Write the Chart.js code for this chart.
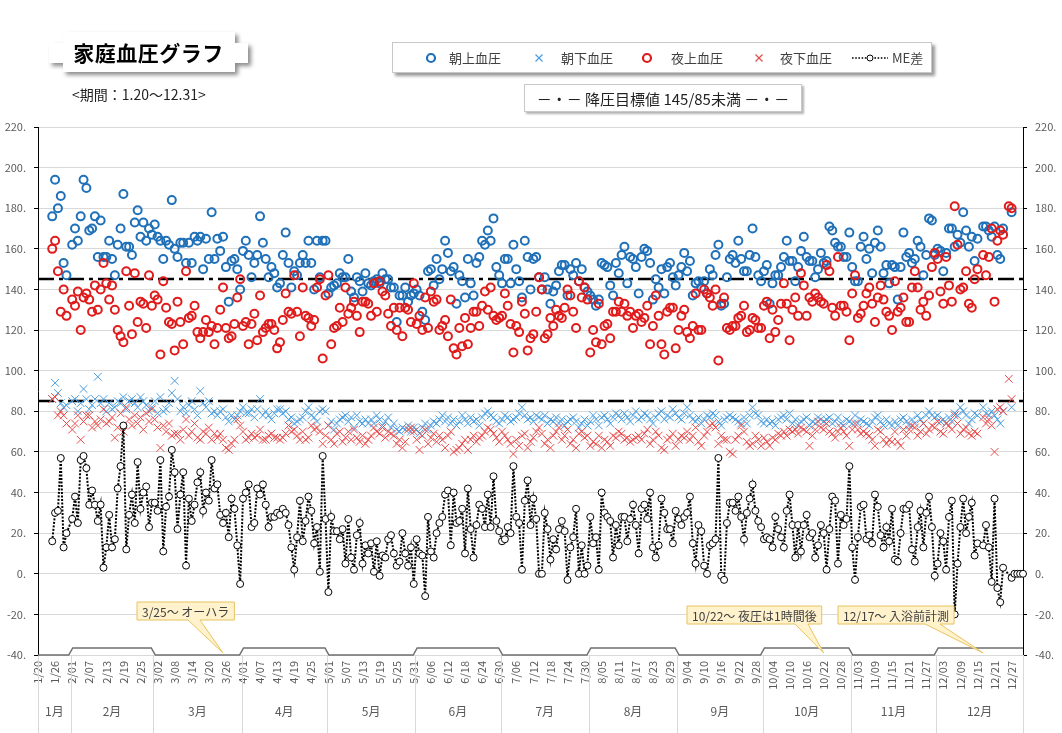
<!DOCTYPE html>
<html lang="ja">
<head>
<meta charset="utf-8">
<title>家庭血圧グラフ</title>
<script src="https://cdn.jsdelivr.net/npm/chart.js@4.4.1/dist/chart.umd.min.js"></script>
<style>
  html, body { margin: 0; padding: 0; background: #fff; }
  body { width: 1062px; height: 733px; position: relative; overflow: hidden; font-family: "Noto Sans CJK JP", "Noto Sans", sans-serif; color: #333; }
  #bpChart { position: absolute; left: 0; top: 0; }
  .title-wrap { position: absolute; left: 49px; top: 32px; width: 199px; height: 40px; filter: drop-shadow(3px 3px 2px rgba(0,0,0,0.45)); z-index: 2; }
  .title-plate { width: 100%; height: 100%; background: #fff; display: flex; align-items: center; justify-content: center;
    clip-path: polygon(14px 0, 186px 0, 186px 11px, 199px 11px, 199px 31px, 186px 31px, 186px 40px, 14px 40px, 14px 31px, 0 31px, 0 11px, 14px 11px);
    font-size: 21px; font-weight: bold; color: #000; letter-spacing: 0.5px; }
  .period { position: absolute; left: 72px; top: 84px; font-size: 14px; color: #222; z-index: 2; }
  .box { position: absolute; background: #fff; border: 1px solid #c8c8c8; box-shadow: 3px 3px 3px rgba(0,0,0,0.4); z-index: 2; }
  .legend-item { position: absolute; top: 0; height: 29px; display: flex; align-items: center; font-size: 13px; color: #404040; }
  .legend-item svg { display: block; }
  .target { font-size: 15px; color: #222; display: flex; align-items: center; justify-content: center; box-shadow: 2px 2px 2px rgba(0,0,0,0.3); }
</style>
</head>
<body>
<canvas id="bpChart" width="1062" height="733"></canvas>

<div class="title-wrap"><div class="title-plate">家庭血圧グラフ</div></div>
<div class="period">&lt;期間：1.20～12.31&gt;</div>

<div class="box" style="left:392px; top:42px; width:538px; height:29px;">
  <div class="legend-item" style="left:32px"><svg width="12" height="12"><circle cx="6" cy="6" r="4" fill="none" stroke="#1f70b8" stroke-width="2.2"/></svg></div>
  <div class="legend-item" style="left:56px">朝上血圧</div>
  <div class="legend-item" style="left:140px"><svg width="12" height="12"><path d="M2.5 2.5L9.5 9.5M9.5 2.5L2.5 9.5" stroke="#4a9ee0" stroke-width="1.2"/></svg></div>
  <div class="legend-item" style="left:168px">朝下血圧</div>
  <div class="legend-item" style="left:248px"><svg width="12" height="12"><circle cx="6" cy="6" r="4" fill="none" stroke="#e01b1b" stroke-width="2.2"/></svg></div>
  <div class="legend-item" style="left:278px">夜上血圧</div>
  <div class="legend-item" style="left:360px"><svg width="12" height="12"><path d="M2.5 2.5L9.5 9.5M9.5 2.5L2.5 9.5" stroke="#e84a4a" stroke-width="1.2"/></svg></div>
  <div class="legend-item" style="left:387px">夜下血圧</div>
  <div class="legend-item" style="left:459px"><svg width="36" height="12"><line x1="0" y1="6" x2="36" y2="6" stroke="#000" stroke-width="1.6" stroke-dasharray="1.6 1.6"/><circle cx="18" cy="6" r="3" fill="#fff" stroke="#000" stroke-width="1"/></svg></div>
  <div class="legend-item" style="left:499px">ME差</div>
</div>

<div class="box target" style="left:524px; top:84px; width:276px; height:26px;">－・－ 降圧目標値 145/85未満 －・－</div>

<script>
const FONT = '"Noto Sans CJK JP", "Noto Sans", sans-serif';

// 日付ラベル (2020年 1/20～12/31)
const monthNames = ['1月', '2月', '3月', '4月', '5月', '6月', '7月', '8月', '9月', '10月', '11月', '12月'];
const monthDays = [31, 29, 31, 30, 31, 30, 31, 31, 30, 31, 30, 31];
const startDay = 20;
const targetLines = [145, 85];

const labels = [];
const monthStart = [];
for (let m = 0; m < 12; m++) {
    monthStart.push(labels.length);
    for (let d = (m === 0 ? startDay : 1); d <= monthDays[m]; d++) {
        labels.push(`${m + 1}/${String(d).padStart(2, '0')}`);
    }
}

// 朝上血圧
const morningSys = [
    null,null,null,null,null,176,194,180,186,153,
    147,null,162,170,164,176,194,190,169,170,
    176,156,174,156,156,164,155,147,162,170,
    187,161,161,157,173,179,166,173,164,170,
    167,172,166,164,155,164,162,184,160,156,
    163,163,153,163,153,166,164,166,150,165,
    155,178,155,165,159,166,151,134,154,155,
    150,140,159,164,157,146,153,157,176,163,
    155,146,151,148,141,143,157,168,153,141,
    149,147,153,157,153,164,153,140,164,146,
    164,164,138,141,142,143,148,146,146,155,
    139,136,146,144,139,148,143,142,144,145,
    143,148,145,145,141,141,124,137,137,141,
    134,137,138,140,137,129,125,149,150,142,
    155,145,150,164,158,149,151,133,147,144,
    136,155,143,137,153,156,164,162,169,164,
    175,151,147,143,155,155,143,162,150,144,
    136,164,156,140,155,156,146,140,146,140,
    133,139,142,149,152,152,137,150,147,153,
    144,150,141,139,137,135,132,135,153,152,
    151,142,137,153,148,157,161,143,156,155,
    151,138,156,160,159,153,135,145,141,150,
    138,151,153,146,142,147,151,158,149,154,
    137,143,144,141,144,138,150,147,157,162,
    132,133,146,155,157,153,164,155,149,149,
    157,170,156,147,144,149,152,133,143,147,
    147,151,156,164,154,154,144,151,159,166,
    156,154,154,146,150,158,153,154,171,169,
    163,161,161,156,156,168,151,144,144,161,
    166,155,160,148,163,169,161,148,152,143,
    152,151,135,151,168,156,158,153,155,164,
    161,147,157,175,174,157,160,159,149,158,
    170,170,161,167,163,178,169,161,166,154,
    165,null,171,171,169,166,171,157,155,170,
    null,null,178,null,null,null,null
];

// 朝下血圧
const morningDia = [
    null,null,null,null,null,86,94,89,84,82,
    83,null,85,86,80,84,91,86,81,83,
    86,97,84,86,80,84,81,82,85,84,
    87,81,85,86,84,82,87,85,83,80,
    82,85,79,87,80,81,84,89,95,86,
    80,82,79,83,85,81,78,90,84,82,
    85,79,80,78,80,81,77,75,78,76,
    78,80,82,79,79,81,77,81,86,78,
    80,78,76,79,81,81,79,80,76,77,
    74,75,76,77,80,82,78,77,75,80,
    81,80,73,75,71,74,76,77,78,75,
    77,72,78,75,74,76,74,76,74,78,
    76,73,75,77,72,74,71,70,72,71,
    73,70,72,71,69,72,74,71,73,75,
    74,76,78,75,77,74,76,73,75,78,
    76,74,77,75,76,73,77,79,80,78,
    77,75,74,76,78,77,75,76,77,79,
    82,78,76,77,75,78,77,76,78,74,
    76,75,77,74,76,73,75,76,77,75,
    72,74,76,73,75,78,76,73,77,78,
    76,74,77,79,78,76,79,77,75,78,
    80,76,77,79,78,76,74,77,79,80,
    76,78,77,81,79,77,76,79,82,78,
    76,75,77,74,76,78,77,79,78,75,
    73,76,77,78,77,76,75,74,77,74,
    78,82,79,78,75,74,76,74,75,73,
    76,77,78,76,79,74,76,73,75,76,
    77,73,75,74,77,76,75,76,77,74,
    75,77,74,73,76,75,74,78,74,76,
    75,74,73,75,77,78,75,73,76,74,
    73,75,73,76,77,75,73,76,74,78,
    76,74,78,80,78,77,78,75,76,74,
    77,75,79,78,82,80,78,74,76,79,
    78,null,82,79,78,80,78,76,74,80,
    null,null,82,null,null,null,null
];

// 夜上血圧
const eveningSys = [
    null,null,null,null,null,160,164,149,129,140,
    127,null,135,132,139,120,136,138,135,129,
    142,130,140,153,143,135,142,130,120,117,
    114,149,132,118,148,124,134,133,121,147,
    132,137,135,108,144,131,124,123,110,134,
    124,113,149,126,127,132,119,116,119,125,
    119,122,113,121,130,141,121,116,117,123,
    136,145,122,124,113,123,128,115,137,119,
    121,123,123,120,111,114,125,138,129,128,
    147,129,117,141,127,126,122,125,141,145,
    106,137,147,113,121,122,131,124,141,128,
    131,134,127,119,134,134,133,127,143,129,
    144,139,137,128,122,131,120,131,117,131,
    130,124,143,123,127,120,136,121,139,134,
    135,120,122,125,117,135,111,108,121,112,
    126,113,121,129,129,122,132,139,130,141,
    127,125,126,127,138,132,123,109,122,119,
    134,128,110,116,118,129,146,140,116,118,
    126,122,130,127,126,131,140,137,129,121,
    144,136,141,135,109,120,114,133,113,122,
    123,116,129,129,134,129,133,127,129,121,
    127,128,124,126,132,113,122,137,127,113,
    108,129,131,131,111,120,127,130,119,116,
    122,138,120,120,140,138,136,132,140,105,
    133,136,121,120,122,122,126,127,132,119,
    120,126,125,121,121,132,134,116,130,119,
    125,133,143,133,115,130,136,127,148,142,
    127,136,134,138,136,134,133,152,149,131,
    127,156,132,132,129,115,138,147,126,128,
    132,138,141,133,124,136,142,135,129,127,
    120,144,129,131,136,124,124,141,149,141,
    130,134,127,137,151,158,155,139,133,156,
    142,134,181,162,140,141,149,133,131,145,
    150,null,157,147,156,170,134,164,169,167,
    null,181,180,null,null,null,null
];

// 夜下血圧
const eveningDia = [
    null,null,null,null,null,86,87,78,80,78,
    74,null,71,74,78,66,75,78,78,72,
    75,73,76,81,74,75,77,67,72,79,
    70,82,76,73,78,74,77,71,79,75,
    81,76,72,62,73,70,74,68,69,69,
    66,71,76,68,70,74,67,66,70,69,
    72,66,69,67,69,66,62,61,64,66,
    76,73,70,66,67,69,67,68,71,66,
    66,68,69,67,67,66,67,69,73,70,
    71,68,66,70,66,67,73,71,72,70,
    64,68,73,66,64,69,70,65,67,70,
    66,71,67,65,68,64,66,68,72,70,
    69,72,67,70,69,68,64,66,62,65,
    71,72,70,66,61,68,71,64,67,69,
    65,68,66,62,68,70,60,61,62,64,
    66,61,66,68,65,67,68,70,72,71,
    69,67,65,70,68,66,64,59,66,63,
    68,69,62,65,67,70,72,69,64,66,
    62,68,70,72,66,68,71,64,66,62,
    69,70,67,68,63,65,64,68,62,66,
    65,63,68,67,70,69,66,67,65,66,
    67,68,66,69,71,64,66,70,68,62,
    61,66,67,69,63,66,68,67,70,66,
    68,72,65,63,68,70,73,74,72,64,
    68,66,66,60,59,66,68,73,70,65,
    63,64,68,66,63,67,65,63,67,66,
    69,68,70,68,71,70,71,69,72,71,
    70,63,68,71,75,72,71,74,70,69,
    67,70,72,70,68,63,71,74,71,69,
    70,69,68,66,63,71,70,66,64,66,
    65,70,65,63,71,68,71,73,72,68,
    70,74,69,71,73,72,75,70,69,74,
    73,71,78,74,69,71,72,69,68,70,
    69,null,77,74,76,73,60,81,82,80,
    null,96,86,null,null,null,null
];

// ME差 (朝上 - 夜上)
const meDiff = [
    null,null,null,null,null,16,30,31,57,13,
    20,null,27,38,25,56,58,52,34,41,
    34,26,34,3,13,29,13,17,42,53,
    73,12,29,39,25,55,32,40,43,23,
    35,35,31,56,11,33,38,61,50,22,
    39,50,4,37,26,34,45,50,31,40,
    36,56,42,44,29,25,30,18,37,32,
    14,-5,37,40,44,23,25,42,39,44,
    34,23,28,28,30,29,32,30,24,13,
    2,18,36,16,26,38,31,15,23,1,
    58,27,-9,28,21,21,17,22,5,27,
    8,2,19,25,5,14,10,15,1,16,
    -1,9,8,17,19,10,4,6,20,10,
    4,13,-5,17,10,9,-11,28,11,8,
    20,25,28,39,41,14,40,25,26,32,
    10,42,22,8,24,34,32,23,39,23,
    48,26,21,16,17,23,20,53,28,25,
    2,36,46,24,37,27,0,0,30,22,
    7,17,12,22,26,21,-3,13,18,32,
    0,14,0,4,28,15,18,2,40,30,
    28,26,8,24,14,28,28,16,27,34,
    24,10,32,34,27,40,13,8,14,37,
    30,22,22,15,31,27,24,28,30,38,
    15,5,24,21,4,0,14,15,17,57,
    -1,-3,25,35,35,31,38,28,17,30,
    37,44,31,26,23,17,18,17,13,28,
    22,18,13,31,39,24,8,24,11,24,
    29,18,20,8,14,24,20,2,22,38,
    36,5,29,24,27,53,13,-3,18,33,
    34,17,19,15,39,33,19,13,23,16,
    32,7,6,20,32,32,34,12,6,23,
    31,13,30,38,23,-1,5,20,16,2,
    28,36,-20,5,23,37,20,28,35,9,
    15,null,14,24,13,-4,37,-7,-14,3,
    null,null,-2,0,0,0,0
];

// 吹き出し
const callouts = [
    { text: '3/25～ オーハラ', date: '3/25', x: 137, y: 602, tail: [188, 200] },
    { text: '10/22～ 夜圧は1時間後', date: '10/22', x: 687, y: 606, tail: [795, 808] },
    { text: '12/17～ 入浴前計測', date: '12/17', x: 838, y: 606, tail: [925, 940] }
];

const decorPlugin = {
    id: 'decor',
    beforeDatasetsDraw(chart) {
        const { ctx, chartArea: area, scales: { y } } = chart;
        ctx.save();
        ctx.strokeStyle = '#000';
        ctx.lineWidth = 2.5;
        ctx.setLineDash([16, 5, 4, 5]);
        targetLines.forEach(v => {
            const py = Math.round(y.getPixelForValue(v));
            ctx.beginPath();
            ctx.moveTo(area.left, py);
            ctx.lineTo(area.right, py);
            ctx.stroke();
        });
        ctx.restore();
    },
    afterDraw(chart) {
        const { ctx, chartArea: area, scales: { x, y } } = chart;
        const edges = [area.left];
        for (let m = 1; m < 12; m++) {
            const i = monthStart[m];
            edges.push((x.getPixelForValue(i - 1) + x.getPixelForValue(i)) / 2);
        }
        edges.push(area.right);

        ctx.save();
        // 月区切り線
        ctx.strokeStyle = '#d9d9d9';
        ctx.lineWidth = 1;
        edges.forEach(ex => {
            const px = Math.round(ex) + 0.5;
            ctx.beginPath();
            ctx.moveTo(px, area.bottom);
            ctx.lineTo(px, chart.height);
            ctx.stroke();
        });

        // 月の帯
        const low = y.getPixelForValue(-40);
        const high = low - 7;
        ctx.strokeStyle = '#6f6f6f';
        ctx.lineWidth = 1.5;
        ctx.beginPath();
        ctx.moveTo(area.left, low);
        for (let m = 1; m < 12; m++) {
            const prev = (m - 1) % 2 === 0 ? low : high;
            const next = m % 2 === 0 ? low : high;
            ctx.lineTo(edges[m] - 2, prev);
            ctx.lineTo(edges[m] + 2, next);
        }
        ctx.lineTo(area.right, high);
        ctx.stroke();

        // 月ラベル
        ctx.fillStyle = '#595959';
        ctx.font = '12px ' + FONT;
        ctx.textAlign = 'center';
        ctx.textBaseline = 'middle';
        monthNames.forEach((name, m) => {
            ctx.fillText(name, (edges[m] + edges[m + 1]) / 2, 711);
        });

        // 吹き出し
        ctx.font = '12px ' + FONT;
        ctx.textAlign = 'left';
        callouts.forEach(c => {
            const w = ctx.measureText(c.text).width + 10;
            const h = 18;
            const tipX = x.getPixelForValue(labels.indexOf(c.date));
            const tipY = area.bottom - 2;
            ctx.beginPath();
            ctx.moveTo(c.x, c.y);
            ctx.lineTo(c.x + w, c.y);
            ctx.lineTo(c.x + w, c.y + h);
            ctx.lineTo(c.tail[1], c.y + h);
            ctx.lineTo(tipX, tipY);
            ctx.lineTo(c.tail[0], c.y + h);
            ctx.lineTo(c.x, c.y + h);
            ctx.closePath();
            ctx.fillStyle = '#fff2cc';
            ctx.fill();
            ctx.strokeStyle = '#e6c45e';
            ctx.lineWidth = 1;
            ctx.stroke();
            ctx.fillStyle = '#404040';
            ctx.fillText(c.text, c.x + 5, c.y + h / 2 + 1);
        });
        ctx.restore();
    }
};

const pointSeries = (label, data, style, color, radius, width, order) => ({
    label,
    data,
    showLine: false,
    pointStyle: style,
    pointRadius: radius,
    pointHoverRadius: radius,
    pointBorderColor: color,
    pointBackgroundColor: 'rgba(0,0,0,0)',
    pointBorderWidth: width,
    order
});

const yTicks = {
    stepSize: 20,
    color: '#595959',
    font: { size: 11, family: FONT },
    padding: 8,
    callback: v => v + '.'
};

new Chart(document.getElementById('bpChart'), {
    type: 'line',
    data: {
        labels,
        datasets: [
            pointSeries('朝上血圧', morningSys, 'circle', '#1f70b8', 4, 2, 4),
            pointSeries('朝下血圧', morningDia, 'crossRot', '#4a9ee0', 5.5, 1, 3),
            pointSeries('夜上血圧', eveningSys, 'circle', '#e01b1b', 4, 2, 2),
            pointSeries('夜下血圧', eveningDia, 'crossRot', '#e84a4a', 5.5, 1, 1),
            {
                label: 'ME差',
                data: meDiff,
                borderColor: '#000',
                borderWidth: 2,
                borderDash: [2, 1.5],
                spanGaps: true,
                tension: 0,
                fill: false,
                pointStyle: 'circle',
                pointRadius: 3.5,
                pointHoverRadius: 3.5,
                pointBorderColor: '#000',
                pointBackgroundColor: '#fff',
                pointBorderWidth: 1,
                order: 0
            }
        ]
    },
    options: {
        responsive: false,
        animation: false,
        events: [],
        layout: { padding: { top: 127, left: 0, right: 0, bottom: 0 } },
        plugins: {
            legend: { display: false },
            tooltip: { enabled: false }
        },
        scales: {
            x: {
                type: 'category',
                grid: { display: false, drawTicks: false },
                border: { display: false },
                ticks: {
                    autoSkip: false,
                    minRotation: 90,
                    maxRotation: 90,
                    padding: 6,
                    color: '#595959',
                    font: { size: 11, family: FONT },
                    callback: (v, i) => (i % 6 === 0 ? labels[i] : '')
                },
                afterFit: scale => { scale.height = 78; }
            },
            y: {
                position: 'left',
                min: -40,
                max: 220,
                ticks: yTicks,
                grid: { color: '#d9d9d9', tickColor: '#000', tickLength: 4 },
                border: { color: '#000', width: 1 },
                afterFit: scale => { scale.width = 38; }
            },
            y2: {
                position: 'right',
                min: -40,
                max: 220,
                ticks: yTicks,
                grid: { drawOnChartArea: false, tickColor: '#000', tickLength: 4 },
                border: { color: '#000', width: 1 },
                afterFit: scale => { scale.width = 39; }
            }
        }
    },
    plugins: [decorPlugin]
});
</script>
</body>
</html>
